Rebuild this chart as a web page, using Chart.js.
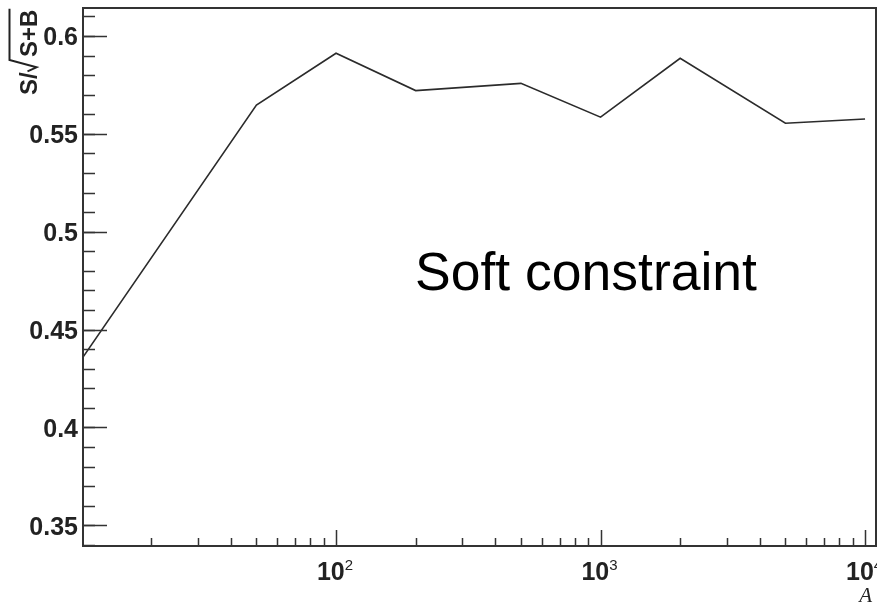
<!DOCTYPE html>
<html>
<head>
<meta charset="utf-8">
<style>
  html, body { margin: 0; padding: 0; background: #ffffff; }
  canvas { display: block; }
</style>
<script src="https://cdn.jsdelivr.net/npm/chart.js@4"></script>
</head>
<body>
<canvas id="chart" width="877" height="605"></canvas>
<script>
// Mass parameter A (log scale) and the significance S/sqrt(S+B)
const aValues = [10, 50, 100, 200, 500, 1000, 2000, 5000, 10000];
const significance = [0.4274, 0.5647, 0.5912, 0.5721, 0.5758, 0.5585, 0.5886, 0.5554, 0.5576];

// Axis ticks
const yMajorTicks = [0.35, 0.4, 0.45, 0.5, 0.55, 0.6];
const yTickLabels = ['0.35', '0.4', '0.45', '0.5', '0.55', '0.6'];
const xMajorTicks = [100, 1000, 10000];
const xTickExponents = ['2', '3', '4'];

const xAxisTitle = 'A';
const annotation = 'Soft constraint';

const FONT = '"Liberation Sans", Arial, Helvetica, sans-serif';
const INK = '#222222';

const points = aValues.map((a, i) => ({ x: a, y: significance[i] }));

// Frame, inward ticks and labels in the ROOT style
const framePlugin = {
  id: 'rootFrame',
  afterDraw(chart) {
    const { ctx, chartArea: area } = chart;
    const xs = chart.scales.x;
    const ys = chart.scales.y;
    ctx.save();

    // minor y ticks every 0.01
    ctx.strokeStyle = '#333333';
    ctx.lineWidth = 1.5;
    ctx.beginPath();
    for (let k = 34; k <= 61; k++) {
      const v = k / 100;
      const py = Math.round(ys.getPixelForValue(v)) + 0.5;
      if (py < area.top || py > area.bottom) continue;
      ctx.moveTo(area.left, py);
      ctx.lineTo(area.left + 12, py);
    }
    ctx.stroke();

    // major y ticks and labels
    ctx.beginPath();
    yMajorTicks.forEach(v => {
      const py = Math.round(ys.getPixelForValue(v)) + 0.5;
      ctx.moveTo(area.left, py);
      ctx.lineTo(area.left + 24, py);
    });
    ctx.stroke();

    ctx.fillStyle = INK;
    ctx.font = 'bold 25px ' + FONT;
    ctx.textAlign = 'right';
    ctx.textBaseline = 'alphabetic';
    yMajorTicks.forEach((v, i) => {
      const py = ys.getPixelForValue(v);
      ctx.fillText(yTickLabels[i], area.left - 5, py + 9.5);
    });

    // minor x ticks (2..9 in each decade)
    ctx.beginPath();
    [10, 100, 1000].forEach(d => {
      for (let m = 2; m <= 9; m++) {
        const px = Math.round(xs.getPixelForValue(m * d)) + 0.5;
        if (px < area.left || px > area.right) continue;
        ctx.moveTo(px, area.bottom);
        ctx.lineTo(px, area.bottom - 8);
      }
    });
    ctx.stroke();

    // major x ticks and power-of-ten labels
    ctx.beginPath();
    xMajorTicks.forEach(v => {
      const px = Math.round(xs.getPixelForValue(v)) + 0.5;
      ctx.moveTo(px, area.bottom);
      ctx.lineTo(px, area.bottom - 16);
    });
    ctx.stroke();

    xMajorTicks.forEach((v, i) => {
      const px = xs.getPixelForValue(v);
      ctx.font = 'bold 25px ' + FONT;
      const wBase = ctx.measureText('10').width;
      ctx.font = '15px ' + FONT;
      const wExp = ctx.measureText(xTickExponents[i]).width;
      const x0 = px - (wBase + wExp) / 2 - 1;
      ctx.textAlign = 'left';
      ctx.font = 'bold 25px ' + FONT;
      ctx.fillText('10', x0, 580);
      ctx.font = '15px ' + FONT;
      ctx.fillText(xTickExponents[i], x0 + wBase, 570);
    });

    // x axis title
    ctx.font = 'italic 21px "Liberation Serif", "Times New Roman", serif';
    ctx.textAlign = 'right';
    ctx.fillText(xAxisTitle, 872, 602);

    // y axis title: S/sqrt(S+B), rotated
    ctx.save();
    ctx.translate(36.5, 95);
    ctx.rotate(-Math.PI / 2);
    ctx.font = 'bold 24px ' + FONT;
    ctx.textAlign = 'left';
    ctx.fillText('S/', 0, 0);
    const w1 = ctx.measureText('S/').width;
    const uSB = 38;
    const wSB = ctx.measureText('S+B').width;
    ctx.fillText('S+B', uSB, 0);
    ctx.strokeStyle = INK;
    ctx.lineWidth = 2;
    ctx.beginPath();
    ctx.moveTo(w1 + 1, -9);
    ctx.lineTo(w1 + 5, 0);
    ctx.lineTo(uSB - 3, -27);
    ctx.lineTo(uSB + wSB + 1, -27);
    ctx.stroke();
    ctx.restore();

    // annotation
    ctx.font = '53.5px ' + FONT;
    ctx.textAlign = 'left';
    ctx.fillStyle = '#000000';
    ctx.fillText(annotation, 415, 290);

    // frame
    ctx.strokeStyle = '#333333';
    ctx.lineWidth = 2;
    ctx.strokeRect(area.left, area.top, area.right - area.left, area.bottom - area.top);

    ctx.restore();
  }
};

new Chart(document.getElementById('chart'), {
  type: 'scatter',
  data: {
    datasets: [{
      data: points,
      showLine: true,
      borderColor: '#2b2b2b',
      borderWidth: 1.6,
      pointRadius: 0,
      tension: 0,
      fill: false
    }]
  },
  options: {
    responsive: false,
    animation: false,
    devicePixelRatio: 1,
    layout: { padding: { left: 83, top: 8, right: 1, bottom: 59 } },
    plugins: {
      legend: { display: false },
      tooltip: { enabled: false }
    },
    scales: {
      x: { type: 'logarithmic', min: 11.05, max: 11000, display: false },
      y: { type: 'linear', min: 0.3394, max: 0.6143, display: false }
    }
  },
  plugins: [framePlugin]
});
</script>
</body>
</html>
